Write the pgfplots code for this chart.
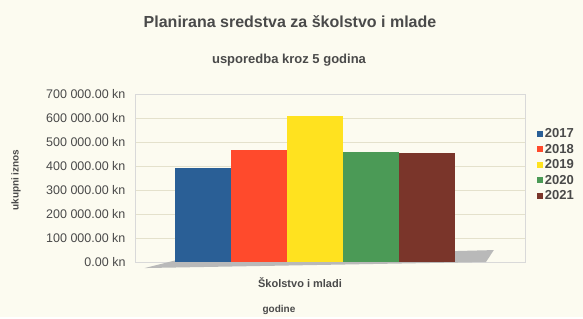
\documentclass[border=0pt]{standalone}
\usepackage{pgfplots}
\pgfplotsset{compat=1.18}
\usepackage{fontspec}
\setmainfont{Liberation Sans}
\definecolor{bg}{HTML}{FCFBF0}
\definecolor{txt}{HTML}{4A4A4A}
\definecolor{gridc}{HTML}{E4E1CC}
\definecolor{c2017}{HTML}{2A5F96}
\definecolor{c2018}{HTML}{FF4A2C}
\definecolor{c2019}{HTML}{FFE21F}
\definecolor{c2020}{HTML}{4B9A56}
\definecolor{c2021}{HTML}{7A352A}
\begin{document}
\begin{tikzpicture}
\fill[bg] (0pt,0pt) rectangle (583pt,317pt);
\node[font=\fontsize{16}{18}\selectfont\bfseries, text=txt] at (290pt,295pt) {Planirana sredstva za školstvo i mlade};
\node[font=\fontsize{13}{15}\selectfont\bfseries, text=txt] at (289pt,257pt) {usporedba kroz 5 godina};
\node[font=\fontsize{10}{12}\selectfont\bfseries, text=txt, rotate=90] at (16pt,137pt) {ukupni iznos};
\node[font=\fontsize{10}{12}\selectfont\bfseries, text=txt] at (279pt,7pt) {godine};
\begin{axis}[
  at={(135pt,55pt)}, anchor=south west,
  scale only axis, width=390pt, height=168pt,
  clip=false,
  ybar=0pt, bar width=56pt,
  xmin=-1, xmax=1.1667, ymin=0, ymax=700000,
  scaled y ticks=false,
  axis line style={draw=gray!30},
  xtick={0}, xticklabels={Školstvo i mladi},
  xtick style={draw=none},
  xticklabel style={yshift=-8pt, xshift=-15pt, font=\fontsize{11}{13}\selectfont\bfseries},
  ytick={0,100000,...,700000},
  yticklabels={0.00 kn,100 000.00 kn,200 000.00 kn,300 000.00 kn,400 000.00 kn,500 000.00 kn,600 000.00 kn,700 000.00 kn},
  ytick style={draw=none},
  ymajorgrids, grid style={draw=gridc},
  tick label style={text=txt},
  yticklabel style={xshift=-6pt, font=\fontsize{12.5}{14}\selectfont},
  legend style={at={(1.03,0.82)}, anchor=north west, draw=none, fill=none,
    font=\fontsize{13}{15}\selectfont\bfseries, text=txt, row sep=1pt,
    inner xsep=0pt},
  legend cell align=left,
  legend image code/.code={\fill[#1] (0pt,-3pt) rectangle (6pt,3pt);},
]
\fill[gray!55] (rel axis cs:0.025,-0.036) -- (rel axis cs:0.9,0) -- (rel axis cs:0.92,0.071) -- (rel axis cs:0.128,0.024) -- cycle;
\addplot[fill=c2017, draw=none] coordinates {(0,390000)};
\addplot[fill=c2018, draw=none] coordinates {(0,465000)};
\addplot[fill=c2019, draw=none] coordinates {(0,610000)};
\addplot[fill=c2020, draw=none] coordinates {(0,460000)};
\addplot[fill=c2021, draw=none] coordinates {(0,455000)};
\legend{2017,2018,2019,2020,2021}
\end{axis}
\end{tikzpicture}
\end{document}
